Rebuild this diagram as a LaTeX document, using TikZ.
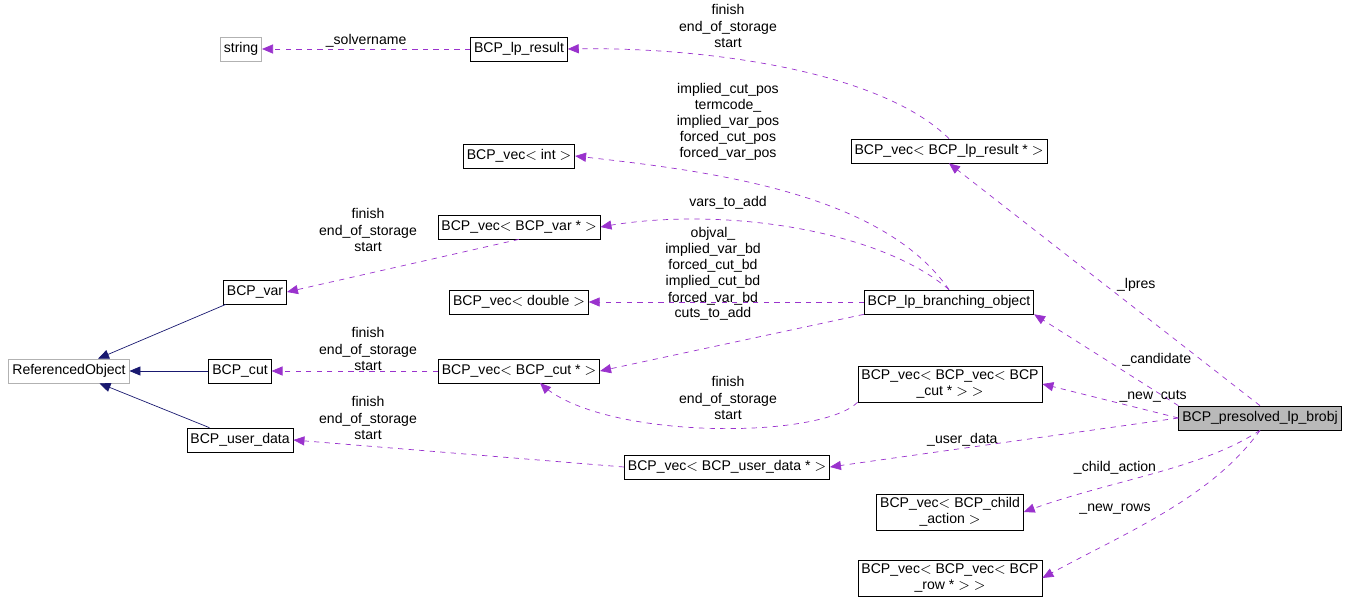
\documentclass[tikz,border=0pt]{standalone}
\usepackage{fontspec}
\setmainfont{Liberation Sans}
\usetikzlibrary{arrows,positioning}
\definecolor{edgepurple}{HTML}{9A32CD}
\definecolor{inhnavy}{HTML}{191970}
\tikzset{
  cls/.style={draw=black,fill=white,inner sep=2pt,minimum height=0.48cm,font=\fontsize{8}{9.2}\selectfont,align=center},
  ext/.style={cls,draw=gray!60},
  use/.style={draw=edgepurple,dashed,-triangle 45,fill=none},
  inh/.style={draw=inhnavy,-triangle 45},
  lbl/.style={font=\fontsize{8}{9.2}\selectfont,align=center,inner sep=1pt}
}
\begin{document}
\begin{tikzpicture}[x=0.02cm,y=-0.02cm]
    \useasboundingbox (0,0) rectangle (1349,604);

    % classes
    \node[ext] (string) at (241,49) {string};
    \node[cls] (lpresult) at (519,49) {BCP\_lp\_result};
    \node[cls] (vecint) at (519,156) {BCP\_vec$<$ int $>$};
    \node[cls] (vecvar) at (519,227) {BCP\_vec$<$ BCP\_var * $>$};
    \node[cls] (var) at (255,292) {BCP\_var};
    \node[cls] (vecdouble) at (519,302) {BCP\_vec$<$ double $>$};
    \node[cls] (branch) at (949,302) {BCP\_lp\_branching\_object};
    \node[cls] (veclpres) at (949,151) {BCP\_vec$<$ BCP\_lp\_result * $>$};
    \node[ext] (refobj) at (69,371) {ReferencedObject};
    \node[cls] (cut) at (240,371) {BCP\_cut};
    \node[cls] (veccut) at (519,371) {BCP\_vec$<$ BCP\_cut * $>$};
    \node[cls] (vecveccut) at (950,384) {BCP\_vec$<$ BCP\_vec$<$ BCP\\\_cut * $>$ $>$};
    \node[cls,fill=gray!55] (presolved) at (1260,418) {BCP\_presolved\_lp\_brobj};
    \node[cls] (userdata) at (240,440) {BCP\_user\_data};
    \node[cls] (vecuser) at (727,467) {BCP\_vec$<$ BCP\_user\_data * $>$};
    \node[cls] (vecchild) at (950,512) {BCP\_vec$<$ BCP\_child\\\_action $>$};
    \node[cls] (vecrow) at (950,578) {BCP\_vec$<$ BCP\_vec$<$ BCP\\\_row * $>$ $>$};

    % inheritance
    \draw[inh] (var) -- (refobj);
    \draw[inh] (cut) -- (refobj);
    \draw[inh] (userdata) -- (refobj);

    % usage
    \draw[use] (lpresult) -- (string) node[lbl,midway,above] {\_solvername};
    \draw[use] (veclpres.north) .. controls (880,70) and (700,46) .. (lpresult.east);
    \node[lbl] at (728,26) {finish\\end\_of\_storage\\start};
    \draw[use] (branch.north) .. controls (880,190) and (700,170) .. (vecint.east);
    \node[lbl] at (728,122) {implied\_cut\_pos\\termcode\_\\implied\_var\_pos\\forced\_cut\_pos\\forced\_var\_pos};
    \draw[use] (branch.north) .. controls (880,230) and (720,205) .. (vecvar.east);
    \node[lbl] at (728,203) {vars\_to\_add};
    \draw[use] (branch) -- (vecdouble);
    \node[lbl] at (713,266) {objval\_\\implied\_var\_bd\\forced\_cut\_bd\\implied\_cut\_bd\\forced\_var\_bd};
    \draw[use] (branch.south west) -- (veccut.east);
    \node[lbl] at (713,314) {cuts\_to\_add};
    \draw[use] (vecvar.south) -- (var.east);
    \node[lbl] at (368,230) {finish\\end\_of\_storage\\start};
    \draw[use] (veccut) -- (cut);
    \node[lbl] at (368,349) {finish\\end\_of\_storage\\start};
    \draw[use] (vecveccut.south west) .. controls (820,440) and (600,440) .. (540,383);
    \node[lbl] at (728,398) {finish\\end\_of\_storage\\start};
    \draw[use] (vecuser.west) -- (userdata.east);
    \node[lbl] at (368,418) {finish\\end\_of\_storage\\start};
    \draw[use] (presolved.north) -- (veclpres.south) node[lbl,pos=0.5,right=6pt] {\_lpres};
    \draw[use] (presolved.north west) -- (branch.south east) node[lbl,pos=0.5,right=8pt] {\_candidate};
    \draw[use] (presolved.west) -- (vecveccut.east) node[lbl,pos=0.5,above right=-2pt and 4pt] {\_new\_cuts};
    \draw[use] (presolved.west) -- (vecuser.east) node[lbl,pos=0.62,above] {\_user\_data};
    \draw[use] (presolved.south) .. controls (1200,470) and (1110,480) .. (vecchild.east);
    \node[lbl] at (1115,468) {\_child\_action};
    \draw[use] (presolved.south) .. controls (1210,500) and (1120,535) .. (vecrow.east);
    \node[lbl] at (1115,509) {\_new\_rows};
\end{tikzpicture}
\end{document}
